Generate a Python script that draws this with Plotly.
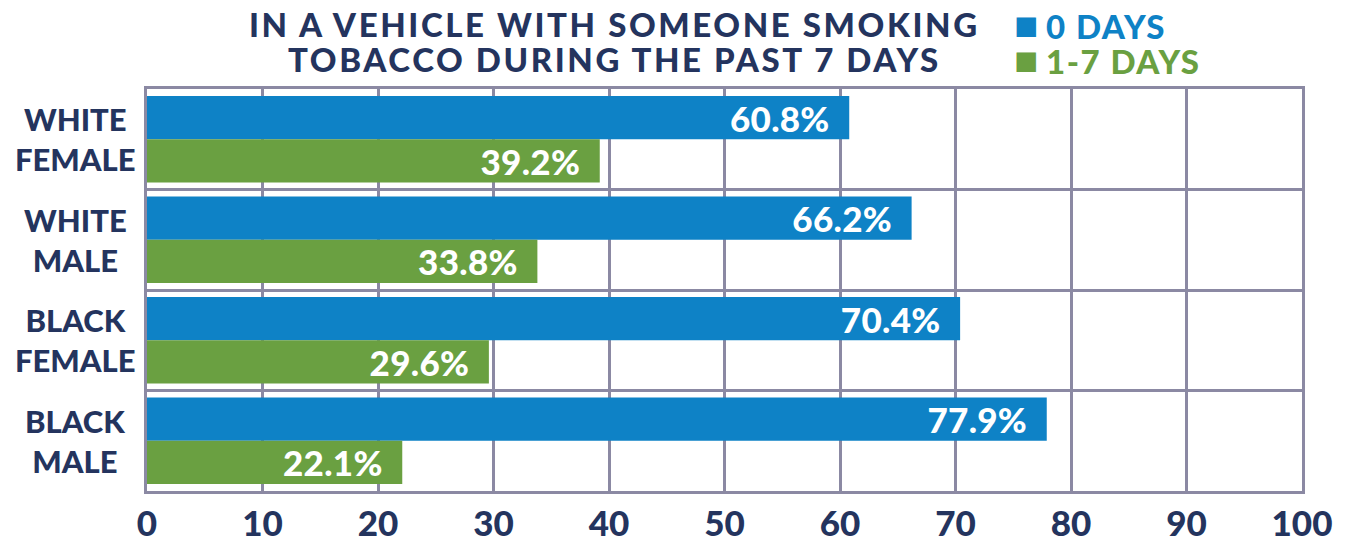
import plotly.graph_objects as go

categories = ["WHITE<br>FEMALE", "WHITE<br>MALE", "BLACK<br>FEMALE", "BLACK<br>MALE"]
zero_days = [60.8, 66.2, 70.4, 77.9]
one_to_seven_days = [39.2, 33.8, 29.6, 22.1]
series_names = ["0 DAYS", "1-7 DAYS"]
x_ticks = [0, 10, 20, 30, 40, 50, 60, 70, 80, 90, 100]
title_lines = ["IN A VEHICLE WITH SOMEONE SMOKING", "TOBACCO DURING THE PAST 7 DAYS"]

BLUE = "#0E82C6"
GREEN = "#6AA041"
NAVY = "#24345E"
GRID = "#8B89A3"
FONT = "Lato"

L, R, T, B = 147, 44, 89, 46
W, H = 1346, 537
PW, PH = W - L - R, H - T - B

def px_x(x):
    return (x - L) / PW

def px_y(y):
    return 1 - (y - T) / PH

fig = go.Figure()
for name, vals, col in [(series_names[0], zero_days, BLUE),
                        (series_names[1], one_to_seven_days, GREEN)]:
    fig.add_trace(go.Bar(
        y=categories, x=vals, name=name, orientation="h",
        marker=dict(color=col, line=dict(width=0)),
        texttemplate="<span style='letter-spacing:0.3px'>%{x:.1f}%</span>\u00a0\u00a0",
        textposition="inside", insidetextanchor="end", textangle=0,
        constraintext="none",
        textfont=dict(family=FONT, size=35, color="white", weight=900),
        showlegend=False, hoverinfo="skip",
    ))

fig.update_layout(
    width=W, height=H,
    margin=dict(l=L, r=R, t=T, b=B, autoexpand=False),
    paper_bgcolor="white", plot_bgcolor="white",
    barmode="group", bargap=0.14, bargroupgap=0,
    font=dict(family=FONT, color=NAVY, weight=900),
    xaxis=dict(range=[0, 100], tickvals=x_ticks, showgrid=True, gridcolor=GRID,
               gridwidth=3, zeroline=False, showline=True, linecolor=GRID, linewidth=3,
               mirror=True, ticks="", ticklabelstandoff=0, automargin=False,
               tickfont=dict(family=FONT, size=35, color=NAVY, weight=900)),
    yaxis=dict(autorange="reversed", tickson="boundaries", showgrid=True,
               gridcolor=GRID, gridwidth=3, showline=True, linecolor=GRID,
               linewidth=3, mirror=True, ticks="", showticklabels=False,
               automargin=False),
)

# category labels (centered, two lines)
for cat in categories:
    fig.add_annotation(
        text=cat, xref="paper", yref="y", x=px_x(75), y=cat,
        xanchor="center", yanchor="middle", align="center", showarrow=False,
        font=dict(family=FONT, size=31, color=NAVY, weight=900),
    )

# title
for line, ypx in zip(title_lines, [24, 59]):
    fig.add_annotation(
        text=f"<span style='letter-spacing:2.6px'>{line}</span>",
        xref="paper", yref="paper", x=px_x(614), y=px_y(ypx),
        xanchor="center", yanchor="middle", showarrow=False,
        font=dict(family=FONT, size=33, color=NAVY, weight=900),
    )

# legend
legend_items = [(series_names[0], BLUE, 24), (series_names[1], GREEN, 59)]
for name, col, ypx in legend_items:
    fig.add_annotation(
        text=f"<span style='font-size:40px'>\u25A0</span> <span style='letter-spacing:1.5px'>{name}</span>",
        xref="paper", yref="paper", x=px_x(1012), y=px_y(ypx),
        xanchor="left", yanchor="middle", showarrow=False,
        font=dict(family=FONT, size=33, color=col, weight=900),
    )

fig.write_html("out.html", config={"displayModeBar": False},
               post_script="document.body.style.margin='0';document.body.style.overflow='hidden';")
